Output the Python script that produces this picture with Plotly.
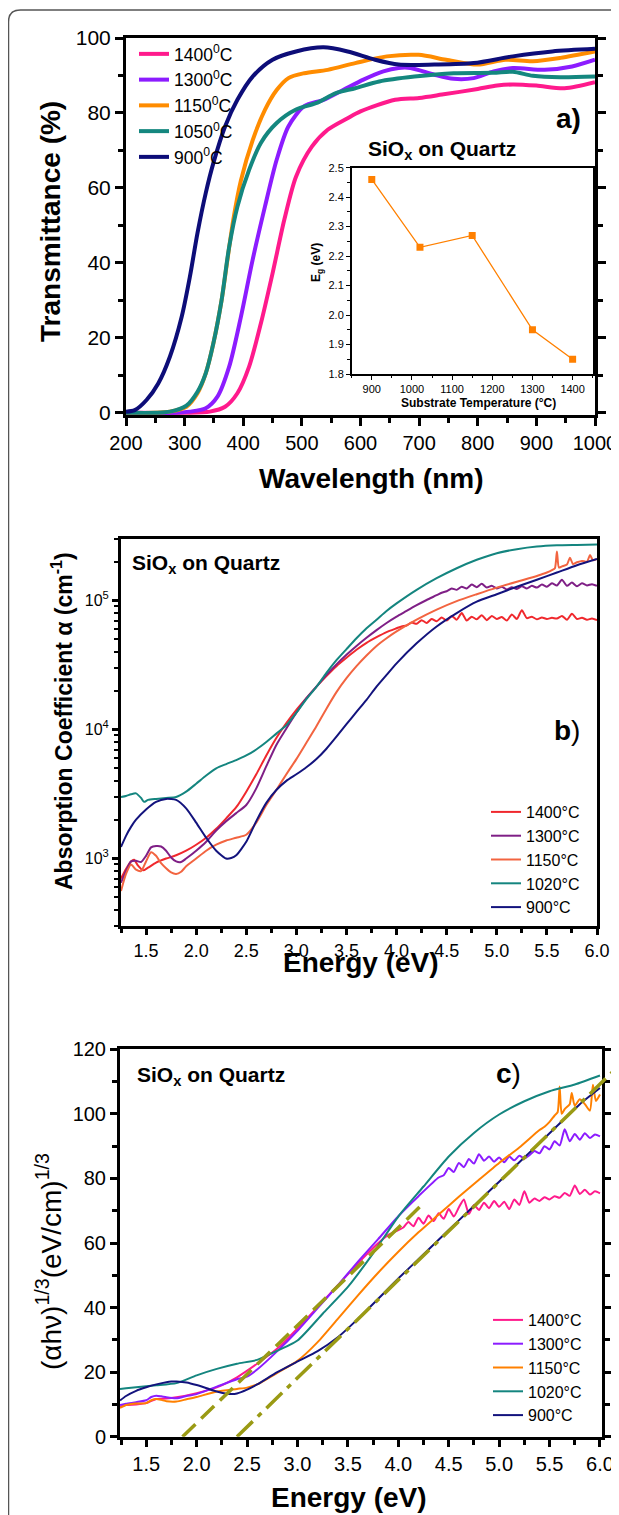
import plotly.graph_objects as go

# page is shown with the browser's default 8px body margin, so the figure is laid out
# in a 611x1507 box placed at (8, 8) of the 619x1515 window
OFF = 8
W, H = 619 - OFF, 1515 - OFF

# ---------------- Panel a: transmittance ----------------
a_lam_1400 = [200, 300, 343, 369, 390, 410, 430, 450, 470, 490, 517, 544, 578, 600, 659, 700, 739, 800, 833, 860, 900, 948, 1000]
a_T_1400 = [0, 0, 0.3, 1.6, 5.2, 12.3, 23.8, 37.2, 51.5, 63.0, 71.0, 75.5, 78.6, 80.4, 83.5, 84.0, 84.9, 86.4, 87.3, 87.6, 87.3, 86.6, 88.2]

a_lam_1300 = [200, 280, 309, 336, 356, 376, 396, 416, 437, 457, 477, 504, 537, 571, 605, 639, 665, 685, 726, 759, 793, 827, 860, 914, 961, 1000]
a_T_1300 = [0, 0, 0.3, 1.2, 4.3, 12.3, 25.6, 40.8, 55.0, 67.5, 76.4, 81.8, 83.5, 86.2, 88.9, 91.1, 92.0, 92.0, 90.2, 89.1, 89.3, 91.1, 92.0, 91.5, 92.4, 94.2]

a_lam_1150 = [200, 250, 275, 303, 322, 336, 349, 363, 373, 383, 396, 416, 437, 457, 477, 504, 544, 591, 645, 699, 746, 800, 847, 894, 941, 1000]
a_T_1150 = [0, 0, 0.3, 1.6, 5.2, 10.5, 18.5, 30.0, 40.8, 51.5, 62.0, 72.7, 80.8, 86.1, 89.3, 90.6, 91.5, 93.3, 95.1, 95.5, 94.2, 92.9, 94.2, 93.8, 94.7, 96.4]

a_lam_1050 = [200, 250, 275, 303, 322, 336, 349, 363, 376, 390, 410, 430, 457, 490, 524, 558, 591, 632, 692, 759, 826, 860, 894, 941, 1000]
a_T_1050 = [0, 0, 0.3, 1.9, 5.6, 10.5, 18.5, 30.0, 44.3, 55.0, 64.8, 72.0, 77.3, 80.9, 82.6, 85.3, 86.6, 88.4, 89.7, 90.6, 90.7, 91.0, 89.9, 89.5, 89.7]

a_lam_900 = [200, 215, 235, 255, 275, 295, 309, 322, 336, 349, 369, 390, 416, 450, 490, 537, 578, 625, 665, 726, 793, 860, 927, 1000]
a_T_900 = [0.3, 0.7, 3.4, 7.8, 15.0, 25.6, 36.3, 48.0, 58.6, 66.6, 76.4, 83.5, 89.7, 94.2, 96.4, 97.5, 96.4, 94.2, 92.9, 92.9, 93.3, 95.1, 96.4, 97.1]

a_labels = ["1400<sup>0</sup>C", "1300<sup>0</sup>C", "1150<sup>0</sup>C", "1050<sup>0</sup>C", "900<sup>0</sup>C"]
a_colors = ["#ff1a8c", "#8c1cff", "#ff8c00", "#14877f", "#0d0d78"]

# inset: band gap vs substrate temperature
inset_T = [900, 1020, 1150, 1300, 1400]
inset_Eg = [2.46, 2.23, 2.27, 1.95, 1.85]

# ---------------- Panel b: absorption coefficient ----------------
b_E_1400 = [1.25, 1.30, 1.35, 1.38, 1.42, 1.47, 1.52, 1.60, 1.70, 1.80, 1.90, 2.00, 2.10, 2.20, 2.30, 2.40, 2.50, 2.60, 2.70, 2.80,
            2.90, 3.00, 3.10, 3.20, 3.30, 3.40, 3.50, 3.60, 3.70, 3.80, 3.90, 4.00,
            4.05, 4.10, 4.15, 4.20, 4.25, 4.30, 4.35, 4.40, 4.45, 4.50, 4.55, 4.60, 4.65, 4.70, 4.75, 4.80, 4.85, 4.90, 4.95, 5.00,
            5.05, 5.10, 5.15, 5.20, 5.25, 5.30, 5.35, 5.40, 5.45, 5.50, 5.55, 5.60, 5.65, 5.70, 5.75, 5.80, 5.85, 5.90, 5.95, 6.00]
b_a_1400 = [700, 830, 950, 980, 880, 810, 850, 930, 1000, 1060, 1150, 1280, 1450, 1700, 2050, 2500, 3300, 4500, 6300, 8600,
            11200, 14200, 17500, 21500, 26000, 31000, 36000, 41500, 47000, 52000, 57000, 61000,
            63000, 64000, 67500, 66000, 70500, 67000, 72000, 69000, 74000, 70000, 76000, 71000, 80000, 70000, 75000, 71500, 77000, 70500, 76000, 72000,
            74500, 70000, 78000, 72000, 84000, 73000, 75000, 71500, 74000, 72000, 73500, 72500, 76000, 71000, 79000, 72000, 73500, 71000, 72500, 70500]

b_E_1300 = [1.25, 1.30, 1.35, 1.40, 1.45, 1.50, 1.55, 1.60, 1.65, 1.70, 1.75, 1.80, 1.85, 1.90, 2.00, 2.10, 2.20, 2.30, 2.40, 2.50,
            2.60, 2.70, 2.80, 2.90, 3.00, 3.10, 3.20, 3.30, 3.40, 3.50, 3.60, 3.70, 3.80, 3.90, 4.00, 4.10, 4.20, 4.30, 4.40,
            4.45, 4.50, 4.55, 4.60, 4.65, 4.70, 4.75, 4.80, 4.85, 4.90, 4.95, 5.00, 5.05, 5.10, 5.15, 5.20, 5.25, 5.30, 5.35, 5.40,
            5.45, 5.50, 5.55, 5.60, 5.65, 5.70, 5.75, 5.80, 5.85, 5.90, 5.95, 6.00]
b_a_1300 = [650, 800, 950, 960, 940, 1050, 1220, 1250, 1240, 1150, 1020, 950, 940, 1000, 1150, 1350, 1650, 1950, 2250, 2600,
            3500, 5200, 7600, 10200, 13500, 17500, 21500, 26500, 32000, 38000, 44500, 51500, 59000, 67000, 75000, 83000, 92000, 101000, 110000,
            115000, 118000, 124000, 121000, 128000, 124000, 133000, 127000, 135000, 126000, 130000, 124000, 128000, 122000, 127000, 123000, 129000, 124000, 130000, 126000,
            133000, 128000, 136000, 131000, 145000, 130000, 138000, 129000, 136000, 131000, 134000, 130000]

b_E_1150 = [1.25, 1.30, 1.35, 1.40, 1.45, 1.50, 1.55, 1.60, 1.65, 1.70, 1.75, 1.80, 1.85, 1.90, 2.00, 2.10, 2.20, 2.30, 2.40, 2.50,
            2.60, 2.70, 2.80, 2.90, 3.00, 3.10, 3.20, 3.30, 3.40, 3.50, 3.60, 3.70, 3.80, 3.90, 4.00, 4.20, 4.40, 4.60, 4.80, 5.00, 5.20, 5.40,
            5.45, 5.50, 5.55, 5.58, 5.60, 5.62, 5.65, 5.70, 5.73, 5.76, 5.80, 5.85, 5.90, 5.93, 5.96, 6.00]
b_a_1150 = [560, 760, 900, 820, 800, 950, 1120, 1050, 920, 840, 780, 760, 790, 870, 1000, 1150, 1280, 1380, 1450, 1530,
            1900, 2600, 3400, 4500, 5900, 7900, 10600, 14500, 19500, 25000, 31000, 37500, 44500, 51000, 57600, 71000, 85000, 99000, 112000, 126000, 140000, 155000,
            160000, 165000, 172000, 178000, 240000, 180000, 184000, 190000, 215000, 192000, 198000, 203000, 200000, 225000, 205000, 210000]

b_E_1020 = [1.25, 1.30, 1.35, 1.40, 1.45, 1.48, 1.52, 1.60, 1.70, 1.80, 1.90, 2.00, 2.10, 2.20, 2.30, 2.40, 2.50, 2.60, 2.70, 2.80,
            2.90, 3.00, 3.10, 3.20, 3.30, 3.40, 3.50, 3.60, 3.70, 3.80, 3.90, 4.00, 4.20, 4.40, 4.60, 4.80, 5.00, 5.20, 5.40, 5.60, 5.80, 6.00]
b_a_1020 = [3000, 3050, 3150, 3200, 2950, 2750, 2850, 2900, 2950, 3000, 3300, 3800, 4400, 5000, 5400, 5800, 6300, 7000, 8000, 9300,
            10800, 13500, 17200, 21400, 27500, 34500, 42000, 51000, 61000, 71000, 83000, 95000, 121000, 149000, 178000, 207000, 233000, 250000, 262000, 268000, 270000, 272000]

b_E_900 = [1.25, 1.30, 1.35, 1.40, 1.50, 1.60, 1.70, 1.80, 1.90, 2.00, 2.10, 2.20, 2.30, 2.35, 2.40, 2.50, 2.60, 2.70, 2.80, 2.90,
           3.00, 3.10, 3.20, 3.30, 3.40, 3.50, 3.60, 3.70, 3.80, 3.90, 4.00, 4.20, 4.40, 4.60, 4.80, 5.00, 5.20, 5.40, 5.60, 5.80, 6.00]
b_a_900 = [1230, 1500, 1760, 2000, 2400, 2750, 2900, 2850, 2450, 1900, 1450, 1150, 1000, 1010, 1060, 1350, 1950, 2700, 3400, 4000,
           4500, 5100, 5900, 7100, 8800, 11000, 13700, 17000, 21500, 26500, 32600, 46600, 63000, 80000, 98000, 112000, 128000, 145000, 165000, 188000, 210000]

b_labels = ["1400°C", "1300°C", "1150°C", "1020°C", "900°C"]
b_colors = ["#f0282d", "#7f1f86", "#f26440", "#14857f", "#13137d"]
b_yticks = [1e3, 1e4, 1e5]
b_yticktext = ["10<sup>3</sup>", "10<sup>4</sup>", "10<sup>5</sup>"]

# ---------------- Panel c: (alpha h nu)^(1/3) ----------------
c_E_1400 = [1.24, 1.30, 1.40, 1.50, 1.60, 1.70, 1.80, 2.00, 2.20, 2.40, 2.60, 2.80, 3.00, 3.20, 3.40, 3.60, 3.80, 3.90, 4.00,
            4.05, 4.10, 4.15, 4.20, 4.25, 4.30, 4.35, 4.40, 4.45, 4.50, 4.55, 4.60, 4.65, 4.70, 4.75, 4.80, 4.85, 4.90, 4.95, 5.00,
            5.05, 5.10, 5.15, 5.20, 5.25, 5.30, 5.35, 5.40, 5.45, 5.50, 5.55, 5.60, 5.65, 5.70, 5.75, 5.80, 5.85, 5.90, 5.95, 6.00]
c_v_1400 = [9.3, 9.8, 10.0, 10.4, 11.7, 11.8, 12.2, 13.5, 15.3, 18.4, 22.6, 27.3, 33.5, 40.2, 46.9, 53.7, 59.9, 62.5, 64.0,
            64.8, 66.5, 65.2, 67.8, 66.0, 68.5, 66.8, 69.2, 67.5, 70.5, 68.2, 71.0, 73.5, 69.0, 71.8, 70.2, 72.5, 70.8, 73.0, 71.2,
            72.8, 70.5, 73.5, 71.8, 76.0, 72.5, 73.8, 73.0, 74.2, 73.5, 74.5, 74.0, 75.5, 74.6, 77.8, 75.2, 76.5, 75.0, 76.0, 75.4]

c_E_1300 = [1.24, 1.30, 1.40, 1.50, 1.55, 1.60, 1.65, 1.70, 1.80, 1.90, 2.00, 2.20, 2.40, 2.50, 2.60, 2.80, 3.00, 3.20, 3.40, 3.60,
            3.80, 4.00, 4.20, 4.40,
            4.45, 4.50, 4.55, 4.60, 4.65, 4.70, 4.75, 4.80, 4.85, 4.90, 4.95, 5.00, 5.05, 5.10, 5.15, 5.20, 5.25, 5.30, 5.35, 5.40,
            5.45, 5.50, 5.55, 5.60, 5.65, 5.70, 5.75, 5.80, 5.85, 5.90, 5.95, 6.00]
c_v_1300 = [9.8, 10.2, 10.7, 11.3, 12.3, 12.7, 12.5, 12.2, 11.9, 12.6, 13.2, 15.5, 17.8, 18.6, 20.8, 26.5, 32.8, 39.8, 46.9, 54.2,
            61.2, 68.3, 74.5, 80.3,
            81.0, 83.2, 82.0, 84.8, 83.5, 86.0, 84.6, 87.5, 85.5, 86.8, 85.2, 86.5, 85.0, 86.8, 85.6, 87.0, 86.2, 87.2, 88.5, 87.8,
            90.0, 89.0, 91.5, 90.2, 95.2, 91.5, 93.8, 92.0, 94.0, 92.5, 93.6, 93.0]

c_E_1150 = [1.24, 1.30, 1.40, 1.50, 1.55, 1.60, 1.65, 1.70, 1.80, 1.90, 2.00, 2.20, 2.40, 2.50, 2.60, 2.80, 3.00, 3.20, 3.40, 3.60,
            3.80, 4.00, 4.20, 4.40, 4.60, 4.80, 5.00, 5.20, 5.40,
            5.45, 5.50, 5.55, 5.58, 5.60, 5.62, 5.65, 5.70, 5.72, 5.75, 5.80, 5.85, 5.90, 5.93, 5.96, 6.00]
c_v_1150 = [8.9, 9.8, 10.3, 10.4, 11.3, 11.7, 11.4, 11.0, 10.9, 11.6, 12.3, 14.0, 14.8, 15.2, 16.2, 19.8, 23.5, 29.3, 36.5, 43.8,
            50.8, 57.3, 63.3, 68.8, 74.3, 79.6, 84.8, 89.6, 95.0,
            96.0, 97.5, 99.5, 100.5, 108.5, 100.0, 101.5, 103.0, 106.5, 102.5, 104.5, 103.0, 101.0, 109.0, 104.0, 106.0]

c_E_1020 = [1.24, 1.30, 1.40, 1.50, 1.60, 1.80, 2.00, 2.20, 2.40, 2.60, 2.75, 3.00, 3.25, 3.50, 3.75, 4.00, 4.25, 4.50, 4.75, 5.00,
            5.25, 5.50, 5.75, 6.00]
c_v_1020 = [14.8, 15.0, 15.3, 15.6, 15.9, 16.6, 19.0, 21.0, 22.6, 23.8, 25.9, 29.8, 38.1, 46.4, 56.8, 68.2, 77.5, 86.8, 94.1, 99.8,
            103.9, 107.0, 109.1, 111.9]

c_E_900 = [1.24, 1.30, 1.40, 1.50, 1.60, 1.70, 1.75, 1.80, 1.90, 2.00, 2.10, 2.20, 2.30, 2.35, 2.40, 2.50, 2.60, 2.80, 3.00, 3.20,
           3.40, 3.60, 3.80, 4.00, 4.20, 4.40, 4.60, 4.80, 5.00, 5.20, 5.40, 5.60, 5.80, 6.00]
c_v_900 = [11.2, 12.6, 14.2, 15.3, 16.2, 16.9, 17.1, 17.1, 16.8, 16.0, 15.0, 14.0, 13.3, 13.2, 13.4, 14.6, 16.2, 20.0, 23.3, 26.5,
           30.8, 36.5, 42.7, 49.0, 55.0, 61.0, 67.0, 73.0, 79.0, 85.0, 91.0, 97.0, 103.0, 108.0]

c_labels = ["1400°C", "1300°C", "1150°C", "1020°C", "900°C"]
c_colors = ["#ff1a8c", "#8c1cff", "#ff8000", "#14857f", "#13137d"]

# linear extrapolation lines (Tauc-type fits)
fitA_E = [1.86, 4.24]
fitA_v = [0.0, 72.0]
fitB_E = [2.40, 6.25]
fitB_v = [0.0, 116.8]
fit_color = "#9a9a14"


# ---------------- helpers: window pixels -> paper fractions ----------------
def px(x):
    return (x - OFF) / W


def py(y):
    return 1 - (y - OFF) / H


FONT = "Liberation Sans, Arial, sans-serif"

fig = go.Figure()

# panel a traces
for lam, T, lab, col in zip([a_lam_1400, a_lam_1300, a_lam_1150, a_lam_1050, a_lam_900],
                            [a_T_1400, a_T_1300, a_T_1150, a_T_1050, a_T_900], a_labels, a_colors):
    fig.add_trace(go.Scatter(x=lam, y=T, mode="lines", name=lab,
                             line=dict(color=col, width=4, shape="spline", smoothing=0.8),
                             xaxis="x", yaxis="y", legend="legend"))

# inset
fig.add_trace(go.Scatter(x=inset_T, y=inset_Eg, mode="lines+markers", showlegend=False,
                         line=dict(color="#ff8000", width=1.3),
                         marker=dict(symbol="square", size=7, color="#ff8000"),
                         xaxis="x2", yaxis="y2"))

# panel b
for E, a, lab, col in zip([b_E_1400, b_E_1300, b_E_1150, b_E_1020, b_E_900],
                          [b_a_1400, b_a_1300, b_a_1150, b_a_1020, b_a_900], b_labels, b_colors):
    fig.add_trace(go.Scatter(x=E, y=a, mode="lines", name=lab,
                             line=dict(color=col, width=2, shape="spline", smoothing=0.6),
                             xaxis="x3", yaxis="y3", legend="legend2"))

# panel c
for E, v, lab, col in zip([c_E_1400, c_E_1300, c_E_1150, c_E_1020, c_E_900],
                          [c_v_1400, c_v_1300, c_v_1150, c_v_1020, c_v_900], c_labels, c_colors):
    fig.add_trace(go.Scatter(x=E, y=v, mode="lines", name=lab,
                             line=dict(color=col, width=2, shape="spline", smoothing=0.6),
                             xaxis="x4", yaxis="y4", legend="legend3"))

# fit lines on a transparent companion subplot that extends to the right window edge
fig.add_trace(go.Scatter(x=fitA_E, y=fitA_v, mode="lines", showlegend=False,
                         line=dict(color=fit_color, width=3.5, dash="18px,8px"),
                         xaxis="x5", yaxis="y5"))
fig.add_trace(go.Scatter(x=fitB_E, y=fitB_v, mode="lines", showlegend=False,
                         line=dict(color=fit_color, width=3.5, dash="22px,7px,5px,7px"),
                         xaxis="x5", yaxis="y5"))

common = dict(showline=True, linecolor="black", showgrid=False, zeroline=False,
              ticks="outside", tickcolor="black")

# panel c geometry (window pixels) used for the companion axis
c_left, c_right = 120, 602
c_xr = [1.24, 6.02]
ext_right = c_xr[0] + (619 - c_left) * (c_xr[1] - c_xr[0]) / (c_right - c_left)

fig.update_layout(
    width=W, height=H,
    margin=dict(l=0, r=0, t=0, b=0, autoexpand=False),
    paper_bgcolor="white", plot_bgcolor="rgba(0,0,0,0)",
    font=dict(family=FONT, color="black"),
    xaxis=dict(common, domain=[px(126), px(595)], range=[200, 1000], anchor="y",
               linewidth=3, tickwidth=3, ticklen=8, dtick=100, tick0=200, mirror=True,
               tickfont=dict(family=FONT, size=20, color="black"),
               minor=dict(ticks="outside", ticklen=5, tickwidth=2.5, dtick=50, tick0=200, tickcolor="black")),
    yaxis=dict(common, domain=[py(415), py(38)], range=[-0.6, 100], anchor="x",
               linewidth=3, tickwidth=3, ticklen=8, dtick=20, tick0=0, mirror="allticks",
               tickfont=dict(family=FONT, size=21, color="black"),
               minor=dict(ticks="outside", ticklen=5, tickwidth=2.5, dtick=10, tick0=0, tickcolor="black")),
    xaxis2=dict(common, domain=[px(351.7), px(592.7)], range=[850, 1450], anchor="y2",
                linewidth=1.5, tickwidth=1.2, ticklen=4, dtick=100, tick0=900, mirror=True,
                tickfont=dict(family=FONT, size=11, color="black"),
                minor=dict(ticks="outside", ticklen=2.5, tickwidth=1, dtick=50, tick0=900, tickcolor="black")),
    yaxis2=dict(common, domain=[py(374), py(167.7)], range=[1.8, 2.5], anchor="x2",
                linewidth=1.5, tickwidth=1.2, ticklen=4, dtick=0.1, tick0=1.8, tickformat=".1f", mirror=True,
                tickfont=dict(family=FONT, size=11, color="black"),
                minor=dict(ticks="outside", ticklen=2.5, tickwidth=1, dtick=0.05, tick0=1.8, tickcolor="black")),
    xaxis3=dict(common, domain=[px(121), px(597)], range=[1.25, 6.0], anchor="y3",
                linewidth=3, tickwidth=3, ticklen=6, dtick=0.5, tick0=1.5, tickformat=".1f", mirror=True,
                tickfont=dict(family=FONT, size=18, color="black"),
                minor=dict(ticks="outside", ticklen=4, tickwidth=2.5, dtick=0.25, tick0=1.25, tickcolor="black")),
    yaxis3=dict(common, domain=[py(926), py(539)], type="log", range=[2.4771, 5.4771], anchor="x3",
                linewidth=3, tickwidth=3, ticklen=6, mirror=True,
                tickvals=b_yticks, ticktext=b_yticktext,
                tickfont=dict(family=FONT, size=16, color="black"),
                minor=dict(ticks="outside", ticklen=4, tickwidth=2, dtick="D1", tickcolor="black")),
    xaxis4=dict(common, domain=[px(c_left), px(c_right)], range=c_xr, anchor="y4",
                linewidth=3, tickwidth=3, ticklen=7, dtick=0.5, tick0=1.5, tickformat=".1f", mirror=True,
                tickfont=dict(family=FONT, size=20, color="black"),
                minor=dict(ticks="outside", ticklen=5, tickwidth=2.5, dtick=0.25, tick0=1.25, tickcolor="black")),
    yaxis4=dict(common, domain=[py(1436.7), py(1049.3)], range=[0, 120], anchor="x4",
                linewidth=3, tickwidth=3, ticklen=7, dtick=20, tick0=0, mirror="allticks",
                tickfont=dict(family=FONT, size=20, color="black"),
                minor=dict(ticks="outside", ticklen=5, tickwidth=2.5, dtick=10, tick0=0, tickcolor="black")),
    xaxis5=dict(domain=[px(c_left), 1.0], range=[c_xr[0], ext_right], anchor="y5", visible=False),
    yaxis5=dict(domain=[py(1436.7), py(1049.3)], range=[0, 120], anchor="x5", visible=False),
    legend=dict(x=px(134), y=py(36), xanchor="left", yanchor="top", bgcolor="rgba(0,0,0,0)",
                font=dict(family=FONT, size=17.5, color="black"), tracegroupgap=0),
    legend2=dict(x=px(486), y=py(795), xanchor="left", yanchor="top", bgcolor="rgba(0,0,0,0)",
                 font=dict(family=FONT, size=16, color="black"), tracegroupgap=0),
    legend3=dict(x=px(488), y=py(1303), xanchor="left", yanchor="top", bgcolor="rgba(0,0,0,0)",
                 font=dict(family=FONT, size=16, color="black"), tracegroupgap=0),
)

# outer rounded frame
fig.add_shape(type="path", xref="paper", yref="paper",
              path=f"M {px(8.5)},{py(1530)} L {px(8.5)},{py(22)} Q {px(8.5)},{py(10)} {px(20.5)},{py(10)} L {px(640)},{py(10)}",
              line=dict(color="#555555", width=1.5))


def ann(text, x, y, size, bold=False, angle=0, xanchor="center", yanchor="middle"):
    t = f"<b>{text}</b>" if bold else text
    fig.add_annotation(text=t, x=px(x), y=py(y), xref="paper", yref="paper", showarrow=False,
                       textangle=angle, xanchor=xanchor, yanchor=yanchor,
                       font=dict(family=FONT, size=size, color="black"))


# panel a texts
ann("Transmittance (%)", 51, 222, 28, bold=True, angle=-90)
ann("Wavelength (nm)", 371, 478, 28, bold=True)
ann("a)", 568, 118, 28, bold=True)
ann("SiO<sub>x</sub> on Quartz", 366, 150, 21, bold=True, xanchor="left")
ann("Substrate Temperature (°C)", 478, 403, 12, bold=True)
ann("E<sub>g</sub> (eV)", 317, 263, 12, bold=True, angle=-90)

# panel b texts
ann("Absorption Coefficient α (cm<sup>-1</sup>)", 62, 721, 23, bold=True, angle=-90)
ann("Energy (eV)", 361, 962, 28, bold=True)
ann("<b>b</b>)", 567, 730, 28)
ann("SiO<sub>x</sub> on Quartz", 130, 564, 21, bold=True, xanchor="left")

# panel c texts
ann("(αhν)<sup>1/3</sup>(eV/cm)<sup>1/3</sup>", 49, 1262, 28, angle=-90)
ann("Energy (eV)", 349, 1497, 28, bold=True)
ann("<b>c</b>)", 508, 1073, 28)
ann("SiO<sub>x</sub> on Quartz", 135, 1076, 21, bold=True, xanchor="left")

fig.write_html("out.html")
